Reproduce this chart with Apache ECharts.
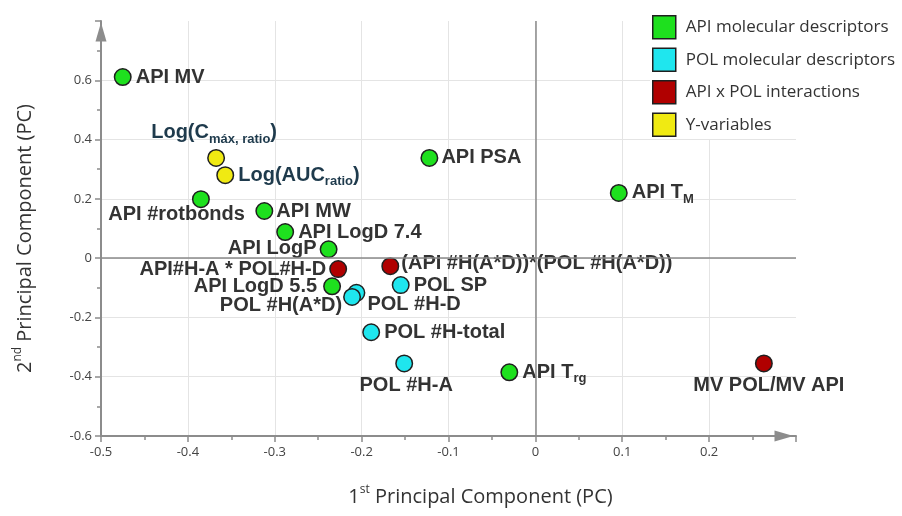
<!DOCTYPE html>
<html>
<head>
<meta charset="utf-8">
<script src="https://cdn.jsdelivr.net/npm/echarts@6/dist/echarts.min.js"></script>
<style>
  html, body { margin: 0; padding: 0; background: #fff; }
  #chart { width: 902px; height: 516px; }
</style>
</head>
<body>
<div id="chart"></div>
<script>
// Loadings on the first two principal components, one list per descriptor group.
// Names use rich-text tags ({s|...}) for subscripts.
const apiNames = ['API MV', 'API PSA', 'API T{s|M}', 'API #rotbonds', 'API MW',
                  'API LogD 7.4', 'API LogP', 'API LogD 5.5', 'API T{s|rg}'];
const apiPC1 = [-0.475, -0.122, 0.096, -0.385, -0.312, -0.288, -0.238, -0.234, -0.030];
const apiPC2 = [0.611, 0.338, 0.220, 0.199, 0.159, 0.088, 0.030, -0.095, -0.385];

const polNames = ['POL SP', 'POL #H-D', 'POL #H(A*D)', 'POL #H-total', 'POL #H-A'];
const polPC1 = [-0.155, -0.206, -0.211, -0.189, -0.151];
const polPC2 = [-0.091, -0.117, -0.131, -0.250, -0.355];

const mixNames = ['API#H-A * POL#H-D', '(API #H(A*D))*(POL #H(A*D))', 'MV POL/MV API'];
const mixPC1 = [-0.227, -0.167, 0.263];
const mixPC2 = [-0.037, -0.027, -0.355];

const yNames = ['Log(C{s|máx, ratio})', 'Log(AUC{s|ratio})'];
const yPC1 = [-0.3675, -0.357];
const yPC2 = [0.338, 0.280];

const groupNames = ['API molecular descriptors', 'POL molecular descriptors',
                    'API x POL interactions', 'Y-variables'];

const xTicks = { min: -0.5, max: 0.3, step: 0.1 };
const yTicks = { min: -0.6, max: 0.8, step: 0.2 };

// Where each point's label sits: [text align, dx, dy] from the marker centre (px).
const labelPlace = {
  'API MV': ['left', 13, 0],
  'API PSA': ['left', 12, 0],
  'API T{s|M}': ['left', 13, 0],
  'API #rotbonds': ['right', 44, 15],
  'API MW': ['left', 12, 0],
  'API LogD 7.4': ['left', 13, 0],
  'API LogP': ['right', -12, -1],
  'API LogD 5.5': ['right', -15, 0],
  'API T{s|rg}': ['left', 13, 0],
  'POL SP': ['left', 13, 0],
  'POL #H-D': ['left', 11, 12],
  'POL #H(A*D)': ['right', -10, 9],
  'POL #H-total': ['left', 13, 0],
  'POL #H-A': ['center', 2, 22],
  'API#H-A * POL#H-D': ['right', -12, 0],
  '(API #H(A*D))*(POL #H(A*D))': ['left', 11, -3],
  'MV POL/MV API': ['center', 5, 22],
  'Log(C{s|máx, ratio})': ['center', -2, -25],
  'Log(AUC{s|ratio})': ['left', 13, 0]
};

const groupColors = ['#1ee01e', '#1fe6ee', '#b00000', '#f0ea12'];
const labelColors = ['#333333', '#333333', '#333333', '#1e3a4c'];

function points(names, xs, ys) {
  return names.map((n, i) => {
    const p = labelPlace[n];
    return {
      name: n,
      value: [xs[i], ys[i]],
      label: { position: 'inside', align: p[0], offset: [p[1], p[2]] }
    };
  });
}

const groups = [
  points(apiNames, apiPC1, apiPC2),
  points(polNames, polPC1, polPC2),
  points(mixNames, mixPC1, mixPC2),
  points(yNames, yPC1, yPC2)
];

const tickFont = { fontFamily: 'Open Sans', fontSize: 13, color: '#444' };
const axisGray = '#8c8c8c';

function fmt(v, hideAbove) {
  if (v > hideAbove) return '';
  const r = Math.round(v * 10) / 10;
  return r === 0 ? '0' : String(r);
}

const series = groups.map((data, gi) => ({
  name: groupNames[gi],
  type: 'scatter',
  z: 3,
  symbol: 'circle',
  symbolSize: 16.5,
  itemStyle: { color: groupColors[gi], borderColor: '#1f1f1f', borderWidth: 1.5, opacity: 1 },
  label: {
    show: true,
    formatter: '{b}',
    fontFamily: 'Liberation Sans',
    fontWeight: 'bold',
    fontSize: 20,
    lineHeight: 26,
    color: labelColors[gi],
    rich: {
      s: { fontFamily: 'Liberation Sans', fontWeight: 'bold', fontSize: 13, lineHeight: 13,
           verticalAlign: 'bottom', color: labelColors[gi] }
    }
  },
  emphasis: { disabled: true },
  data: data
}));

// Origin cross-hair lines
series.unshift({
  type: 'scatter',
  z: 1,
  data: [],
  silent: true,
  markLine: {
    silent: true,
    symbol: 'none',
    label: { show: false },
    lineStyle: { color: '#8a8a8a', width: 1.5, type: 'solid' },
    emphasis: { disabled: true },
    data: [{ xAxis: 0 }, { yAxis: 0 }]
  }
});

const axisNameStyle = {
  fontFamily: 'Open Sans', fontSize: 20, lineHeight: 26, color: '#333',
  rich: { sup: { fontFamily: 'Open Sans', fontSize: 12, lineHeight: 12, verticalAlign: 'top', color: '#333' } }
};

const arrowLine = {
  show: true, onZero: false,
  symbol: ['none', 'triangle'], symbolSize: [11, 19], symbolOffset: [0, -12],
  lineStyle: { color: axisGray, width: 2 }
};

const chart = echarts.init(document.getElementById('chart'), null, { renderer: 'canvas' });
chart.setOption({
  animation: false,
  backgroundColor: '#fff',
  grid: { left: 101, right: 106, top: 21, bottom: 80, containLabel: false },
  legend: {
    data: groupNames,
    orient: 'vertical',
    left: 650,
    top: 0,
    backgroundColor: '#fff',
    padding: [15, 6, 2, 2],
    itemWidth: 23,
    itemHeight: 23,
    itemGap: 8,
    icon: 'rect',
    selectedMode: false,
    itemStyle: { borderColor: '#1f1f1f', borderWidth: 1.5 },
    textStyle: { fontFamily: 'Open Sans', fontSize: 17, lineHeight: 20, color: '#333', padding: [0, 0, 0, 5] },
    z: 10
  },
  xAxis: {
    type: 'value',
    min: xTicks.min, max: xTicks.max, interval: xTicks.step,
    name: '1{sup|st} Principal Component (PC)',
    nameLocation: 'middle',
    nameGap: 48,
    nameTextStyle: Object.assign({}, axisNameStyle, { padding: [0, 0, 0, 64] }),
    axisLine: arrowLine,
    axisTick: { show: true, length: 6, lineStyle: { color: axisGray, width: 1.5 } },
    minorTick: { show: true, splitNumber: 2, length: 4, lineStyle: { color: axisGray, width: 1.5 } },
    axisLabel: Object.assign({ margin: 10, formatter: v => fmt(v, 0.25) }, tickFont),
    splitLine: { show: true, showMinLine: false, showMaxLine: false, lineStyle: { color: '#e4e4e4', width: 1 } }
  },
  yAxis: {
    type: 'value',
    min: yTicks.min, max: yTicks.max, interval: yTicks.step,
    name: '2{sup|nd} Principal Component (PC)',
    nameLocation: 'middle',
    nameGap: 63,
    nameTextStyle: Object.assign({}, axisNameStyle, { padding: [0, 20, 0, 0] }),
    axisLine: Object.assign({}, arrowLine, { symbolOffset: [0, -11] }),
    axisTick: { show: true, length: 6, lineStyle: { color: axisGray, width: 1.5 } },
    minorTick: { show: true, splitNumber: 2, length: 4, lineStyle: { color: axisGray, width: 1.5 } },
    axisLabel: Object.assign({ margin: 9, formatter: v => fmt(v, 0.7) }, tickFont),
    splitLine: { show: true, showMinLine: false, showMaxLine: false, lineStyle: { color: '#e4e4e4', width: 1 } }
  },
  series: series
});
</script>
</body>
</html>
